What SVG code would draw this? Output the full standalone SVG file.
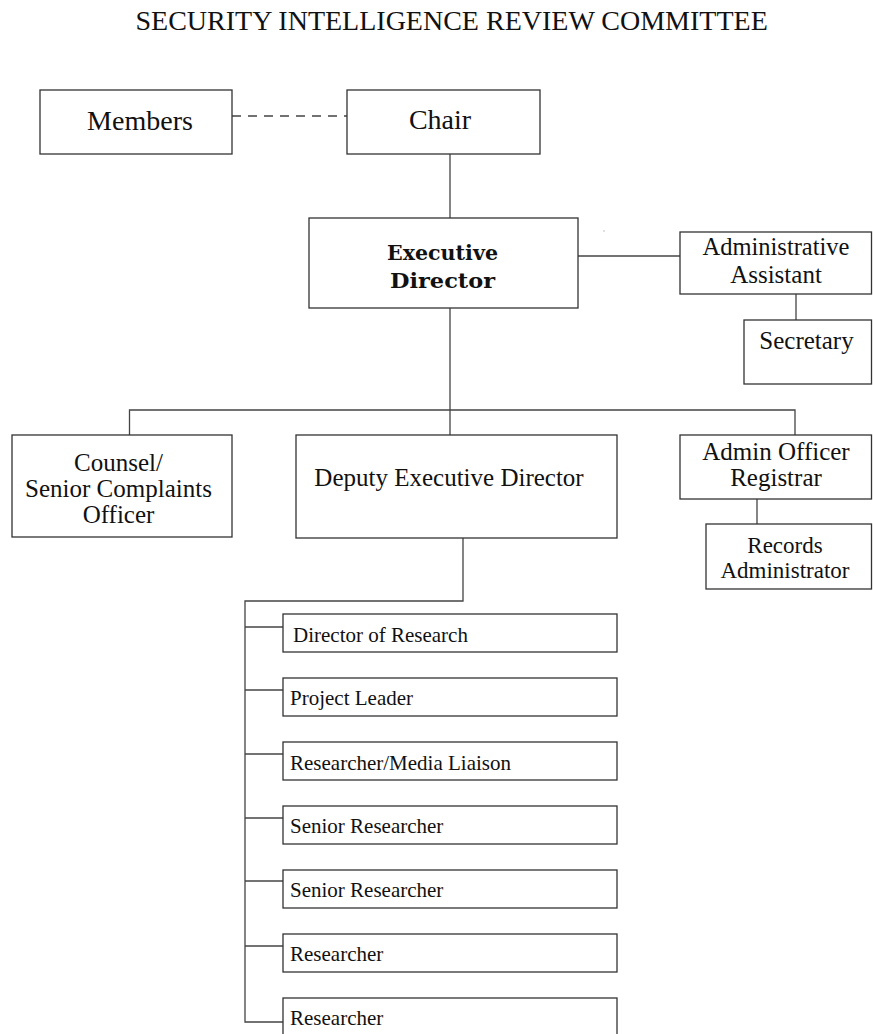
<svg xmlns="http://www.w3.org/2000/svg" width="873" height="1034" viewBox="0 0 873 1034">
<style>
.box{fill:#fff;stroke:#333;stroke-width:1.3}
.ln{fill:none;stroke:#444;stroke-width:1.3}
text{font-family:"Liberation Serif","Times New Roman",serif;fill:#111}
.c{text-anchor:middle}
.t25{font-size:25px}
.t21{font-size:21px}
.ed{font-family:"DejaVu Serif","Liberation Serif",serif;font-size:20px;font-weight:bold;text-anchor:middle}
</style>
<rect width="873" height="1034" fill="#fff"/>
<text x="135.5" y="30" font-size="28">SECURITY INTELLIGENCE REVIEW COMMITTEE</text>
<g id="connectors">
<line class="ln" x1="232" y1="116" x2="347" y2="116" stroke-dasharray="9 7"/>
<line class="ln" x1="450" y1="154" x2="450" y2="218"/>
<line class="ln" x1="578" y1="256" x2="680" y2="256"/>
<line class="ln" x1="796" y1="294" x2="796" y2="320"/>
<line class="ln" x1="450" y1="308" x2="450" y2="435"/>
<polyline class="ln" points="129.5,435 129.5,410 795,410 795,435"/>
<line class="ln" x1="757" y1="499" x2="757" y2="524"/>
<polyline class="ln" points="463,538 463,601 245,601 245,1022 283,1022"/>
<line class="ln" x1="245" y1="627" x2="283" y2="627"/>
<line class="ln" x1="245" y1="690" x2="283" y2="690"/>
<line class="ln" x1="245" y1="754" x2="283" y2="754"/>
<line class="ln" x1="245" y1="818" x2="283" y2="818"/>
<line class="ln" x1="245" y1="881" x2="283" y2="881"/>
<line class="ln" x1="245" y1="946" x2="283" y2="946"/>
</g>
<rect x="603.5" y="230.5" width="1" height="1" fill="#888"/>
<g id="members"><rect class="box" x="40" y="90" width="192" height="64"/><text class="c" x="140" y="130" font-size="28">Members</text></g>
<g id="chair"><rect class="box" x="347" y="90" width="193" height="64"/><text class="c" x="440" y="129" font-size="28">Chair</text></g>
<g id="exec-director"><rect class="box" x="309" y="218" width="269" height="90"/><text class="ed" x="442.5" y="260" textLength="111" lengthAdjust="spacingAndGlyphs">Executive</text><text class="ed" x="442.5" y="288" textLength="105" lengthAdjust="spacingAndGlyphs">Director</text></g>
<g id="admin-assistant"><rect class="box" x="680" y="232" width="191.5" height="62"/><text class="c" x="776" y="255" font-size="24.5">Administrative</text><text class="c t25" x="776" y="283">Assistant</text></g>
<g id="secretary"><rect class="box" x="744" y="320" width="127.5" height="64"/><text class="c t25" x="806.5" y="349">Secretary</text></g>
<g id="counsel"><rect class="box" x="12" y="435" width="220" height="102"/><text class="c t25" x="118.5" y="471">Counsel/</text><text class="c t25" x="118.5" y="497">Senior Complaints</text><text class="c t25" x="118.5" y="523">Officer</text></g>
<g id="deputy"><rect class="box" x="296" y="435" width="321" height="103"/><text class="c t25" x="449" y="486">Deputy Executive Director</text></g>
<g id="admin-officer"><rect class="box" x="680" y="435" width="191.5" height="64"/><text class="c t25" x="776" y="460">Admin Officer</text><text class="c t25" x="776" y="486">Registrar</text></g>
<g id="records"><rect class="box" x="706" y="524" width="165.5" height="65"/><text class="c" x="785" y="553" font-size="23">Records</text><text class="c" x="785" y="578" font-size="23">Administrator</text></g>
<g id="dir-research"><rect class="box" x="283" y="614" width="334" height="38"/><text class="t21" x="293" y="642">Director of Research</text></g>
<g id="project-leader"><rect class="box" x="283" y="678" width="334" height="38"/><text class="t21" x="290" y="705">Project Leader</text></g>
<g id="media-liaison"><rect class="box" x="283" y="742" width="334" height="38"/><text class="t21" x="290" y="770">Researcher/Media Liaison</text></g>
<g id="senior-researcher-1"><rect class="box" x="283" y="806" width="334" height="38"/><text class="t21" x="290" y="833">Senior Researcher</text></g>
<g id="senior-researcher-2"><rect class="box" x="283" y="870" width="334" height="38"/><text class="t21" x="290" y="897">Senior Researcher</text></g>
<g id="researcher-1"><rect class="box" x="283" y="934" width="334" height="38"/><text class="t21" x="290" y="961">Researcher</text></g>
<g id="researcher-2"><rect class="box" x="283" y="998" width="334" height="40"/><text class="t21" x="290" y="1025">Researcher</text></g>
</svg>
